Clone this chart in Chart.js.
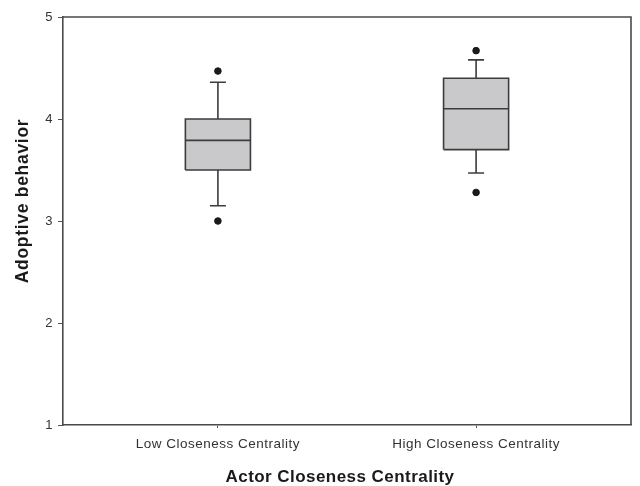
<!DOCTYPE html>
<html lang="en">
<head>
    <meta charset="UTF-8">
    <title>Adoptive behavior by closeness centrality</title>
    <style>
        html, body {
            margin: 0;
            padding: 0;
            background: #ffffff;
        }
        .chartBox {
            width: 640px;
            height: 486px;
        }
    </style>
</head>
<body>
<div class="chartBox">
    <canvas id="myChart"></canvas>
</div>
<script src="https://cdn.jsdelivr.net/npm/chart.js"></script>

<script>
    // Data block
    const groups = ['Low Closeness Centrality', 'High Closeness Centrality'];
    const groupX = [1, 2];
    const lowerWhisker = [3.15, 3.47];
    const q1 = [3.50, 3.70];
    const median = [3.79, 4.10];
    const q3 = [4.00, 4.40];
    const upperWhisker = [4.36, 4.58];
    const outliers = [[3.00, 4.47], [3.28, 4.67]];
    const yTicks = [1, 2, 3, 4, 5];
    const xTitle = 'Actor Closeness Centrality';
    const yTitle = 'Adoptive behavior';

    // half widths of box and whisker caps, in x units
    const boxHalf = 0.126;
    const capHalf = 0.031;
    const lineColor = '#3c3c3c';

    const datasets = [];
    for (let i = 0; i < groups.length; i++) {
        const x = groupX[i];
        datasets.push({
            label: groups[i] + ' box',
            data: [
                {x: x - boxHalf, y: q1[i]},
                {x: x + boxHalf, y: q1[i]},
                {x: x + boxHalf, y: q3[i]},
                {x: x - boxHalf, y: q3[i]},
                {x: x - boxHalf, y: q1[i]}
            ],
            showLine: true,
            fill: 'shape',
            backgroundColor: '#c9c9cb',
            borderColor: lineColor,
            borderWidth: 1.6,
            pointRadius: 0,
            order: 5
        });
        datasets.push({
            label: groups[i] + ' median',
            data: [
                {x: x - boxHalf, y: median[i]},
                {x: x + boxHalf, y: median[i]}
            ],
            showLine: true,
            borderColor: lineColor,
            borderWidth: 1.6,
            pointRadius: 0,
            order: 3
        });
        datasets.push({
            label: groups[i] + ' upper whisker',
            data: [
                {x: x, y: q3[i]},
                {x: x, y: upperWhisker[i]},
                {x: x - capHalf, y: upperWhisker[i]},
                {x: x + capHalf, y: upperWhisker[i]}
            ],
            showLine: true,
            borderColor: lineColor,
            borderWidth: 1.6,
            pointRadius: 0,
            order: 4
        });
        datasets.push({
            label: groups[i] + ' lower whisker',
            data: [
                {x: x, y: q1[i]},
                {x: x, y: lowerWhisker[i]},
                {x: x - capHalf, y: lowerWhisker[i]},
                {x: x + capHalf, y: lowerWhisker[i]}
            ],
            showLine: true,
            borderColor: lineColor,
            borderWidth: 1.6,
            pointRadius: 0,
            order: 4
        });
        datasets.push({
            label: groups[i] + ' outliers',
            data: outliers[i].map(v => ({x: x, y: v})),
            showLine: false,
            backgroundColor: '#1a1a1a',
            borderColor: '#1a1a1a',
            pointRadius: 3.3,
            order: 1
        });
    }

    // top and right edges of the frame, plus the two axis titles
    const frame = {
        id: 'frame',
        beforeDraw(chart) {
            // the reference text is slightly letter-spaced
            chart.ctx.letterSpacing = '0.5px';
        },
        afterDraw(chart) {
            const a = chart.chartArea;
            const ctx = chart.ctx;
            ctx.save();
            ctx.strokeStyle = '#4a4a4a';
            ctx.lineWidth = 1.6;
            ctx.beginPath();
            ctx.moveTo(a.left, a.top);
            ctx.lineTo(a.right, a.top);
            ctx.lineTo(a.right, a.bottom);
            ctx.stroke();

            ctx.fillStyle = '#1a1a1a';
            ctx.textAlign = 'center';
            ctx.textBaseline = 'middle';
            ctx.letterSpacing = '0.45px';
            ctx.font = 'bold 17px "Liberation Sans"';
            ctx.fillText(xTitle, (a.left + a.right) / 2 - 7, 477);

            ctx.letterSpacing = '0.7px';
            ctx.font = 'bold 17.5px "Liberation Sans"';
            ctx.translate(23, (a.top + a.bottom) / 2 - 20);
            ctx.rotate(-Math.PI / 2);
            ctx.fillText(yTitle, 0, 0);
            ctx.restore();
        }
    };

    // Config block
    const config = {
        type: 'scatter',
        data: {datasets: datasets},
        options: {
            responsive: true,
            maintainAspectRatio: false,
            animation: false,
            layout: {
                padding: {top: 17, right: 9, left: 0, bottom: 0}
            },
            plugins: {
                legend: {display: false},
                tooltip: {enabled: false}
            },
            scales: {
                x: {
                    type: 'linear',
                    min: 0.4,
                    max: 2.6,
                    afterBuildTicks: (axis) => {
                        axis.ticks = groupX.map(v => ({value: v}));
                    },
                    afterFit: (axis) => {
                        axis.height = 61;
                    },
                    ticks: {
                        callback: (v) => groups[groupX.indexOf(v)],
                        color: '#333333',
                        padding: 8,
                        maxRotation: 0,
                        font: {family: 'Liberation Sans', size: 13.5}
                    },
                    grid: {
                        drawOnChartArea: false,
                        tickLength: 3,
                        tickColor: '#555555'
                    },
                    border: {color: '#4a4a4a', width: 1.6}
                },
                y: {
                    min: 1,
                    max: 5,
                    afterBuildTicks: (axis) => {
                        axis.ticks = yTicks.map(v => ({value: v}));
                    },
                    afterFit: (axis) => {
                        axis.width = 63;
                    },
                    ticks: {
                        color: '#333333',
                        padding: 5,
                        font: {family: 'Liberation Sans', size: 13}
                    },
                    grid: {
                        drawOnChartArea: false,
                        tickLength: 5,
                        tickColor: '#555555'
                    },
                    border: {color: '#4a4a4a', width: 1.6}
                }
            }
        },
        plugins: [frame]
    };

    // Init block
    const myChart = new Chart(
        document.getElementById('myChart'),
        config
    );
</script>
</body>
</html>
